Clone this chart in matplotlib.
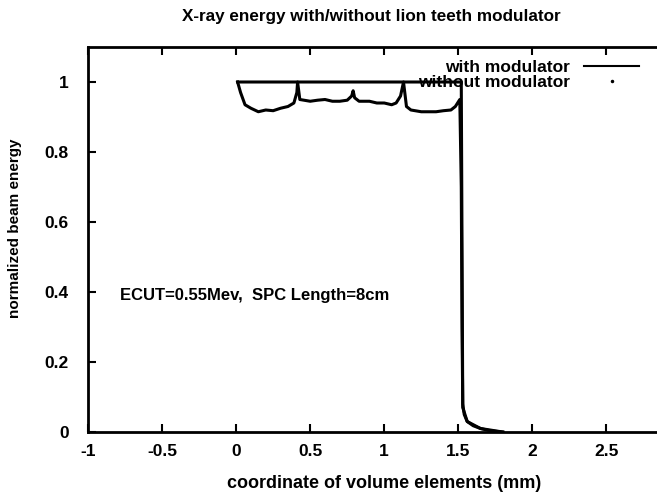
import matplotlib.pyplot as plt
from matplotlib.lines import Line2D
from matplotlib.ticker import FormatStrFormatter

# with modulator: energy profile
x_with = [0.01, 0.03, 0.06, 0.10, 0.15, 0.20, 0.25, 0.30, 0.35, 0.39, 0.41, 0.415, 0.43,
          0.50, 0.55, 0.60, 0.65, 0.70, 0.75, 0.78, 0.79, 0.80, 0.83, 0.90, 0.95,
          1.00, 1.05, 1.08, 1.11, 1.13, 1.15, 1.18, 1.25, 1.30, 1.35, 1.40, 1.45,
          1.48, 1.51, 1.52, 1.525, 1.53, 1.54, 1.56, 1.60, 1.65, 1.70, 1.75, 1.80]
y_with = [1.0, 0.97, 0.935, 0.925, 0.915, 0.92, 0.918, 0.925, 0.93, 0.94, 0.97, 1.0, 0.95,
          0.945, 0.948, 0.95, 0.945, 0.945, 0.948, 0.96, 0.975, 0.955, 0.945, 0.945, 0.94,
          0.94, 0.935, 0.94, 0.96, 1.0, 0.93, 0.92, 0.915, 0.915, 0.915, 0.918, 0.92,
          0.93, 0.95, 0.7, 0.3, 0.08, 0.05, 0.03, 0.018, 0.01, 0.005, 0.002, 0.0]

# without modulator
x_without = [0.01, 1.52, 1.53, 1.56, 1.65, 1.80]
y_without = [1.0, 1.0, 0.07, 0.03, 0.01, 0.0]

xticks = [-1, -0.5, 0, 0.5, 1, 1.5, 2, 2.5]
yticks = [0, 0.2, 0.4, 0.6, 0.8, 1]

plt.rcParams['font.family'] = ['Liberation Sans', 'DejaVu Sans']
plt.rcParams['font.weight'] = 'bold'

fig = plt.figure(figsize=(6.57, 4.95), dpi=100)
# axes run past the right edge, like the cropped scan
ax = fig.add_axes([88 / 657, 63 / 495, 592.5 / 657, 385 / 495])

ax.plot(x_without, y_without, color='black', lw=2.2)
ax.plot(x_with, y_with, color='black', lw=2.2)

ax.set_xlim(-1, 3)
ax.set_ylim(0, 1.1)
ax.set_xticks(xticks)
ax.set_yticks(yticks)
ax.xaxis.set_major_formatter(FormatStrFormatter('%g'))
ax.yaxis.set_major_formatter(FormatStrFormatter('%g'))
ax.tick_params(direction='in', length=6, width=1.5, top=True, right=True,
               labelsize=12.5)
ax.tick_params(axis='x', pad=9)
ax.tick_params(axis='y', pad=14)
for s in ax.spines.values():
    s.set_linewidth(2)

fig.text(371 / 657, 1 - 16 / 495, 'X-ray energy with/without lion teeth modulator',
         fontsize=12.3, fontweight='bold', ha='center', va='center')
ax.set_xlabel('coordinate of volume elements (mm)', fontsize=13, fontweight='bold',
              labelpad=11)
ax.set_ylabel('normalized beam energy', fontsize=11, fontweight='bold')
ax.yaxis.set_label_coords(-0.111, 0.53)

ax.text(-0.785, 0.39, 'ECUT=0.55Mev,  SPC Length=8cm', fontsize=12, fontweight='bold',
        va='center', ha='left')

handles = [Line2D([], [], color='black', lw=1.5),
           Line2D([], [], color='black', ls='none', marker='.', ms=3)]
fig.legend(handles, ['with modulator', 'without modulator'], loc='upper right',
           bbox_to_anchor=(648 / 657, 1 - 51 / 495), frameon=False, markerfirst=False,
           prop={'size': 12.5, 'weight': 'bold'}, handlelength=3.2, handletextpad=0.8,
           labelspacing=0.0, borderpad=0)

fig.savefig('out.png', dpi=100)
